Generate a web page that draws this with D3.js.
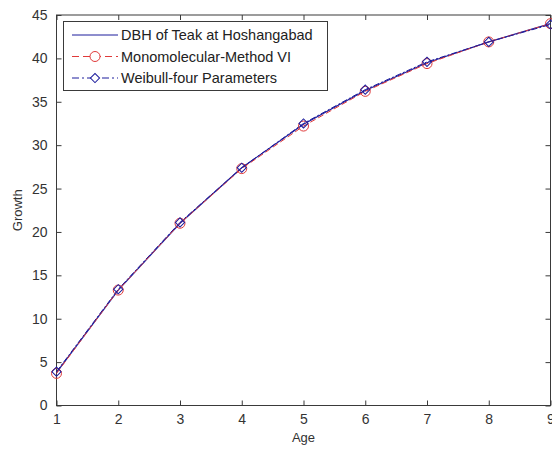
<!DOCTYPE html>
<html>
<head>
<meta charset="utf-8">
<script src="https://cdn.jsdelivr.net/npm/d3@7"></script>
<style>
body { margin: 0; background: #fff; }
text { font-family: "Liberation Sans", Arial, sans-serif; }
</style>
</head>
<body>
<div id="chart"></div>
<script>
var w = 552;
var h = 450;

// data
var age = [1, 2, 3, 4, 5, 6, 7, 8, 9];
var dbhObserved = [3.8, 13.3, 21.0, 27.4, 32.4, 36.3, 39.5, 41.9, 44.0];
var monomolecular = [3.7, 13.3, 21.0, 27.3, 32.2, 36.2, 39.4, 41.9, 44.0];
var weibull = [3.9, 13.4, 21.1, 27.4, 32.5, 36.4, 39.6, 41.9, 43.9];
var seriesNames = ["DBH of Teak at Hoshangabad", "Monomolecular-Method VI", "Weibull-four Parameters"];
var yTicks = [0, 5, 10, 15, 20, 25, 30, 35, 40, 45];

var padL = 56.5, padR = 550.5, padT = 15, padB = 405.5;
var axisColor = "#3a3a3a";
var blue = "#1c1c9c";
var red = "#e03a3a";

var xScale = d3.scaleLinear().domain([1, 9]).range([padL, padR]);
var yScale = d3.scaleLinear().domain([0, 45]).range([padB, padT]);

var svg = d3.select("#chart")
    .append("svg")
    .attr("width", w)
    .attr("height", h);

// box
svg.append("rect")
    .attr("x", padL).attr("y", padT)
    .attr("width", padR - padL).attr("height", padB - padT)
    .attr("fill", "none")
    .attr("stroke", axisColor);

// axes with inward ticks
var xAxis = d3.axisBottom(xScale).tickValues(age).tickSize(-5).tickPadding(9).tickFormat(d3.format("d"));
var yAxis = d3.axisLeft(yScale).tickValues(yTicks).tickSize(-5).tickPadding(9);

var gx = svg.append("g").attr("transform", "translate(0," + padB + ")").call(xAxis);
var gy = svg.append("g").attr("transform", "translate(" + padL + ",0)").call(yAxis);
var gxt = svg.append("g").attr("transform", "translate(0," + padT + ")")
    .call(d3.axisTop(xScale).tickValues(age).tickSize(-5).tickFormat(""));
var gyr = svg.append("g").attr("transform", "translate(" + padR + ",0)")
    .call(d3.axisRight(yScale).tickValues(yTicks).tickSize(-5).tickFormat(""));

[gx, gy, gxt, gyr].forEach(function(g) {
    g.select(".domain").remove();
    g.selectAll("line").attr("stroke", axisColor);
    g.selectAll("text").attr("fill", "#333").attr("font-size", "14px")
        .attr("font-family", "'Liberation Sans', Arial, sans-serif");
});

svg.append("text")
    .attr("x", (padL + padR) / 2).attr("y", 442)
    .attr("text-anchor", "middle").attr("font-size", "13px").attr("fill", "#333")
    .text("Age");
svg.append("text")
    .attr("transform", "translate(22," + ((padT + padB) / 2) + ") rotate(-90)")
    .attr("text-anchor", "middle").attr("font-size", "13px").attr("fill", "#333")
    .text("Growth");

var line = d3.line()
    .x(function(d, i) { return xScale(age[i]); })
    .y(function(d) { return yScale(d); });

// observed
svg.append("path").datum(dbhObserved)
    .attr("d", line).attr("fill", "none")
    .attr("stroke", blue).attr("stroke-width", 1.2);

// monomolecular
svg.append("path").datum(monomolecular)
    .attr("d", line).attr("fill", "none")
    .attr("stroke", red).attr("stroke-width", 1)
    .attr("stroke-dasharray", "6,3");
svg.selectAll("circle.mono")
    .data(monomolecular).enter().append("circle")
    .attr("class", "mono")
    .attr("cx", function(d, i) { return xScale(age[i]); })
    .attr("cy", function(d) { return yScale(d); })
    .attr("r", 5)
    .attr("fill", "none").attr("stroke", red).attr("stroke-width", 1);

// weibull
svg.append("path").datum(weibull)
    .attr("d", line).attr("fill", "none")
    .attr("stroke", blue).attr("stroke-width", 1)
    .attr("stroke-dasharray", "6,2,2,2");
// matlab style diamond: a square turned 45 degrees
var diamond = d3.symbol().type(d3.symbolSquare).size(42);
svg.selectAll("path.weib")
    .data(weibull).enter().append("path")
    .attr("class", "weib")
    .attr("d", diamond)
    .attr("transform", function(d, i) { return "translate(" + xScale(age[i]) + "," + yScale(d) + ") rotate(45)"; })
    .attr("fill", "none").attr("stroke", blue).attr("stroke-width", 1);

// legend
var lg = svg.append("g");
lg.append("rect")
    .attr("x", 63.5).attr("y", 21.5).attr("width", 264).attr("height", 69)
    .attr("fill", "#fff").attr("stroke", axisColor);

var rowsY = [35, 56.5, 78];
var styles = [
    { color: blue, dash: null, marker: null },
    { color: red, dash: "7,4", marker: "circle" },
    { color: blue, dash: "7,3,2,3", marker: "diamond" }
];
seriesNames.forEach(function(name, i) {
    var st = styles[i];
    lg.append("line")
        .attr("x1", 72).attr("x2", 118)
        .attr("y1", rowsY[i]).attr("y2", rowsY[i])
        .attr("stroke", st.color).attr("stroke-width", 1)
        .attr("stroke-dasharray", st.dash);
    if (st.marker == "circle") {
        lg.append("circle").attr("cx", 95).attr("cy", rowsY[i]).attr("r", 5)
            .attr("fill", "#fff").attr("stroke", st.color);
    } else if (st.marker == "diamond") {
        lg.append("path").attr("d", diamond)
            .attr("transform", "translate(95," + rowsY[i] + ") rotate(45)")
            .attr("fill", "#fff").attr("stroke", st.color);
    }
    lg.append("text")
        .attr("x", 121).attr("y", rowsY[i] + 5)
        .attr("font-size", "14.5px").attr("fill", "#222")
        .text(name);
});
</script>
</body>
</html>
